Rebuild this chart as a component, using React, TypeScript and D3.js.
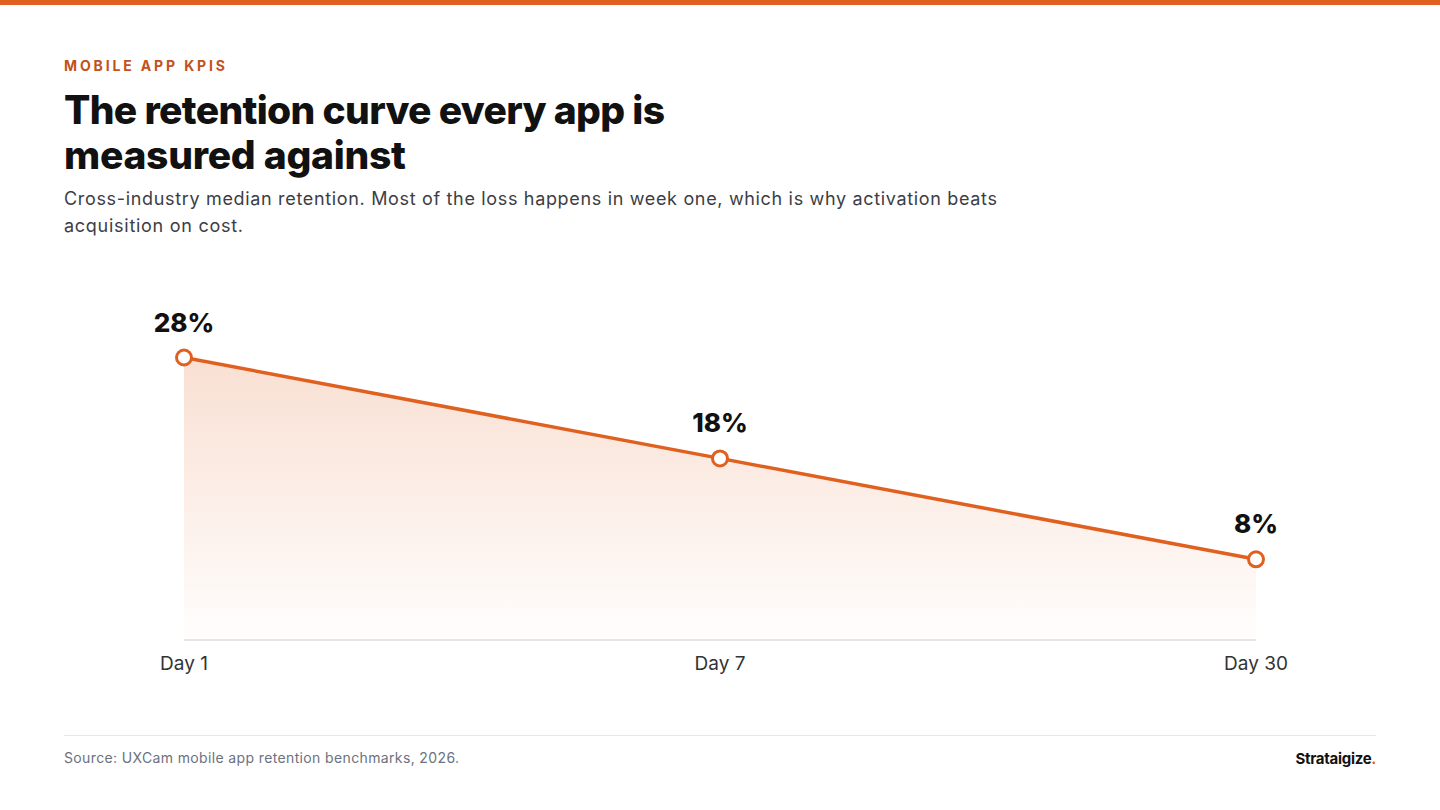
import React from "react";
import * as d3 from "d3";

const categories = ["Day 1", "Day 7", "Day 30"];
const retention = [28, 18, 8];
const valueLabels = ["28%", "18%", "8%"];

const W = 1440;
const H = 810;
const ORANGE = "#E0601F";
const FONT = "Inter, 'Noto Sans', sans-serif";

export default function App() {
  const x = d3.scalePoint<string>().domain(categories).range([184, 1256]);
  const y = d3.scaleLinear().domain([0, 28]).range([640, 357.5]);
  const pts = categories.map((c, i) => ({ c, v: retention[i], l: valueLabels[i] }));
  const line = d3
    .line<typeof pts[0]>()
    .x((d) => x(d.c)!)
    .y((d) => y(d.v));
  const area = d3
    .area<typeof pts[0]>()
    .x((d) => x(d.c)!)
    .y0(y(0))
    .y1((d) => y(d.v));

  return (
    <svg
      width={W}
      height={H}
      viewBox={`0 0 ${W} ${H}`}
      style={{ position: "absolute", left: 0, top: 0, display: "block", background: "#fff" }}
      fontFamily={FONT}
    >
      <defs>
        <linearGradient id="fillGrad" x1="0" y1={y(28)} x2="0" y2={y(0)} gradientUnits="userSpaceOnUse">
          <stop offset="0%" stopColor={ORANGE} stopOpacity={0.2} />
          <stop offset="100%" stopColor={ORANGE} stopOpacity={0.01} />
        </linearGradient>
      </defs>
      <rect x={0} y={0} width={W} height={H} fill="#fff" />
      <rect x={0} y={0} width={W} height={5} fill={ORANGE} />

      <text x={64} y={71} fontSize={14} fontWeight={700} fill="#C2521A" textLength={161} lengthAdjust="spacing">
        MOBILE APP KPIS
      </text>
      <text x={64} y={124} fontSize={39} fontWeight={800} fill="#111" textLength={601} lengthAdjust="spacing">
        The retention curve every app is
      </text>
      <text x={64} y={169} fontSize={39} fontWeight={800} fill="#111" textLength={342} lengthAdjust="spacing">
        measured against
      </text>
      <text x={64} y={205} fontSize={18} fill="#3d3d45" textLength={933} lengthAdjust="spacing">
        Cross-industry median retention. Most of the loss happens in week one, which is why activation beats
      </text>
      <text x={64} y={232} fontSize={18} fill="#3d3d45" textLength={179} lengthAdjust="spacing">
        acquisition on cost.
      </text>

      <path d={area(pts)!} fill="url(#fillGrad)" />
      <line x1={x(categories[0])} x2={x(categories[categories.length - 1])} y1={y(0)} y2={y(0)} stroke="#e5e5e5" strokeWidth={2} />
      <path d={line(pts)!} fill="none" stroke={ORANGE} strokeWidth={3.5} strokeLinejoin="round" />
      {pts.map((d) => (
        <g key={d.c}>
          <circle cx={x(d.c)} cy={y(d.v)} r={7.5} fill="#fff" stroke={ORANGE} strokeWidth={3} />
          <text x={x(d.c)} y={y(d.v) - 26} textAnchor="middle" fontSize={26} fontWeight={800} fill="#111">
            {d.l}
          </text>
          <text x={x(d.c)} y={y(0) + 30} textAnchor="middle" fontSize={19} fill="#333">
            {d.c}
          </text>
        </g>
      ))}

      <line x1={64} x2={1376} y1={735.5} y2={735.5} stroke="#e8e8dc" strokeWidth={1} />
      <text x={64} y={763} fontSize={14} fill="#6b7280" textLength={395} lengthAdjust="spacing">
        Source: UXCam mobile app retention benchmarks, 2026.
      </text>
      <text x={1376} y={764} textAnchor="end" fontSize={15} fontWeight={700} fill="#111" letterSpacing={-0.3}>
        Strataigize<tspan fill={ORANGE}>.</tspan>
      </text>
    </svg>
  );
}
